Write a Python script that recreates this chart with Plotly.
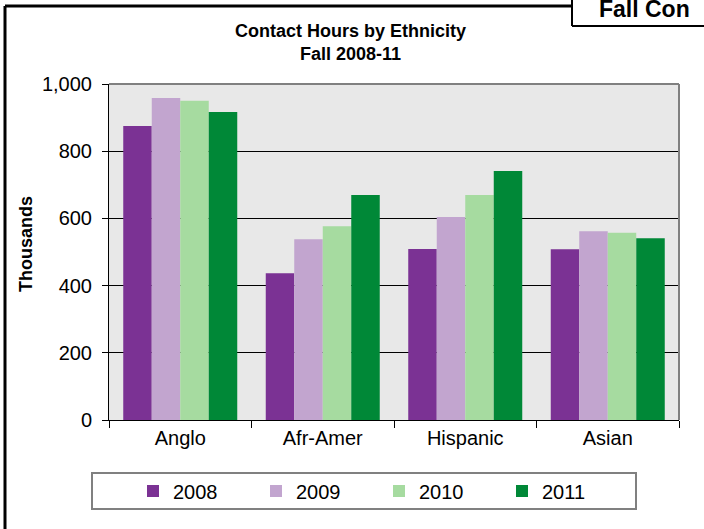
import plotly.graph_objects as go

# Contact hours (thousands) by ethnicity, fall terms
categories = ['Anglo', 'Afr-Amer', 'Hispanic', 'Asian']
years = ['2008', '2009', '2010', '2011']
hours_2008 = [875, 437, 509, 508]
hours_2009 = [958, 538, 604, 562]
hours_2010 = [950, 577, 670, 557]
hours_2011 = [917, 670, 741, 541]
y_ticks = [0, 200, 400, 600, 800, 1000]

W, H = 704, 529
# plot area in pixels
PL, PR, PT, PB = 109, 679, 84, 420


def px(x):
    return (x - PL) / (PR - PL)


def py(y):
    return (PB - y) / (PB - PT)


colors = ['#7B3294', '#C2A5CF', '#A6DBA0', '#008837']
series = [hours_2008, hours_2009, hours_2010, hours_2011]

fig = go.Figure()
for name, vals, col in zip(years, series, colors):
    fig.add_trace(go.Bar(x=categories, y=vals, name=name,
                         marker=dict(color=col, line=dict(width=0))))

FONT = 'Liberation Sans, Arial, sans-serif'

fig.update_layout(
    width=W, height=H,
    barmode='group', bargap=0.2, bargroupgap=0,
    plot_bgcolor='#E8E8E8', paper_bgcolor='white',
    margin=dict(l=PL, r=W - PR, t=PT, b=H - PB, pad=0),
    font=dict(family=FONT, size=20, color='black'),
    showlegend=True,
    legend=dict(orientation='h', x=px(133), xanchor='left',
                y=py(491), yanchor='middle',
                font=dict(size=20), bgcolor='rgba(0,0,0,0)',
                entrywidth=78, entrywidthmode='pixels',
                traceorder='normal', itemclick=False),
)

fig.update_xaxes(showline=True, linecolor='black', linewidth=1,
                 ticks='outside', ticklen=7, tickcolor='black',
                 tickson='boundaries', showgrid=False,
                 tickfont=dict(size=20))
fig.update_yaxes(range=[0, 1000], tickvals=y_ticks, tickformat=',',
                 showline=True, linecolor='black', linewidth=1,
                 ticks='outside', ticklen=6, tickcolor='black',
                 showgrid=True, gridcolor='black', gridwidth=1,
                 zeroline=False, ticklabelstandoff=6,
                 tickfont=dict(size=20))

shapes = [
    # plot frame top and right (gray)
    dict(type='line', xref='paper', yref='paper', x0=0, x1=1, y0=1, y1=1,
         line=dict(color='#808080', width=2)),
    dict(type='line', xref='paper', yref='paper', x0=1, x1=1, y0=0, y1=1,
         line=dict(color='#808080', width=2)),
    # legend box
    dict(type='rect', xref='paper', yref='paper', x0=px(92), x1=px(636),
         y0=py(509), y1=py(473), line=dict(color='#808080', width=2),
         layer='below'),
    # outer frame left and top
    dict(type='line', xref='paper', yref='paper', x0=px(5), x1=px(5),
         y0=py(6), y1=py(540), line=dict(color='black', width=3)),
    dict(type='line', xref='paper', yref='paper', x0=px(5), x1=px(572),
         y0=py(6), y1=py(6), line=dict(color='black', width=3)),
    # top-right heading box
    dict(type='line', xref='paper', yref='paper', x0=px(572), x1=px(572),
         y0=py(-5), y1=py(26), line=dict(color='black', width=2)),
    dict(type='line', xref='paper', yref='paper', x0=px(572), x1=px(720),
         y0=py(26), y1=py(26), line=dict(color='black', width=2)),
]
fig.update_layout(shapes=shapes)

annotations = [
    dict(text='<b>Contact Hours by Ethnicity<br>Fall 2008-11</b>',
         x=px(350), y=py(42), font=dict(size=18)),
    dict(text='<b>Thousands</b>', x=px(26), y=py(244), textangle=-90,
         font=dict(size=18)),
    dict(text='<b>Fall Con</b>', x=px(597), y=py(9),
         xanchor='left', font=dict(size=23)),
]
for a in annotations:
    a.update(xref='paper', yref='paper', showarrow=False)
    a.setdefault('xanchor', 'center')
    a.setdefault('yanchor', 'middle')
fig.update_layout(annotations=annotations)

# page body has a default margin; drop it so the figure sits at 0,0
fig.write_html("out.html", config={'displayModeBar': False},
               post_script="document.body.style.margin='0';")
